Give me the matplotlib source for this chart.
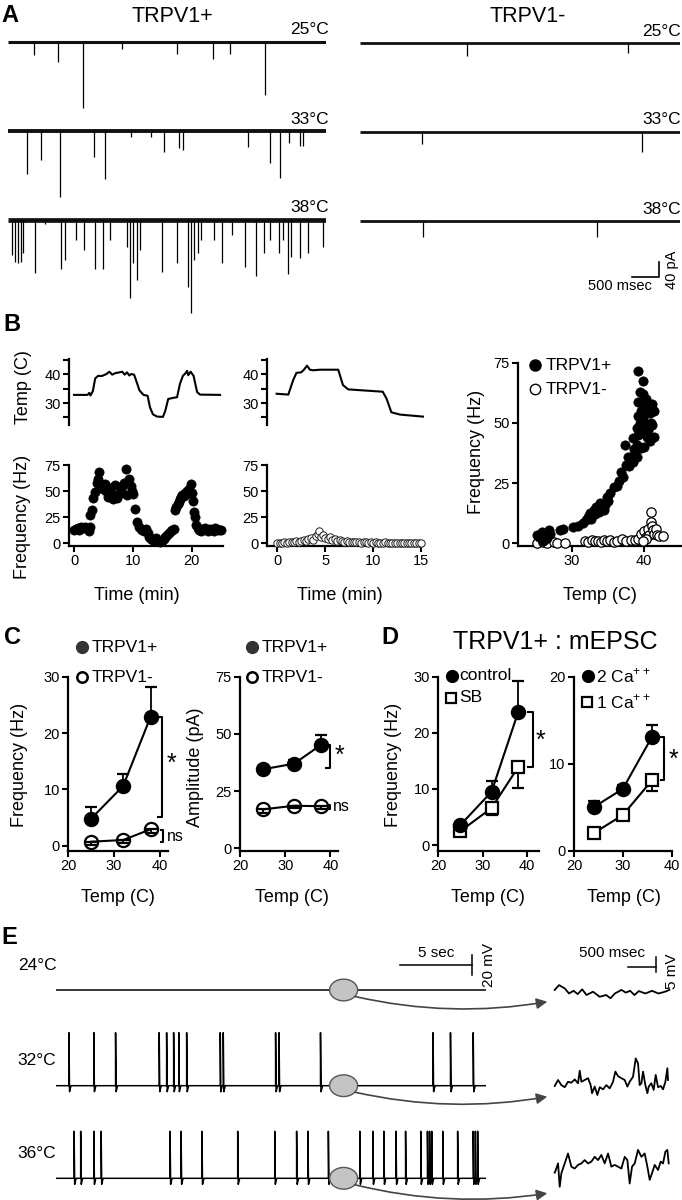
import numpy as np
import matplotlib
matplotlib.use("Agg")
import matplotlib.pyplot as plt
from matplotlib.lines import Line2D
from matplotlib.patches import Ellipse

plt.rcParams["font.family"] = ["Liberation Sans", "DejaVu Sans"]
plt.rcParams["mathtext.fontset"] = "custom"
plt.rcParams["mathtext.rm"] = "Liberation Sans"

# ---------------------
# DATA
# ---------------------
# A: mEPSC event times (ms) and amplitudes (pA, inward)
A_POS_25_T = [485, 921, 1389, 2115, 3124, 3793, 4116, 4753]
A_POS_25_AMP = [35, 53, 176, 19, 32, 45, 32, 142]
A_POS_33_T = [356, 614, 961, 1591, 1800, 2276, 2656, 2890, 3164, 3245, 4439, 4842, 5036, 5205, 5399, 5463]
A_POS_33_AMP = [115, 77, 176, 69, 128, 16, 16, 56, 45, 51, 43, 85, 125, 32, 40, 40]
A_POS_38_T = [82, 138, 195, 243, 276, 501, 695, 986, 1066, 1268, 1405, 1607, 1752, 1897, 2196, 2260,
              2317, 2389, 2438, 2857, 3124, 3326, 3382, 3438, 3527, 3583, 3809, 3971, 4148, 4390,
              4592, 4737, 4858, 5020, 5084, 5181, 5246, 5407, 5560, 5826]
A_POS_38_AMP = [93, 111, 116, 111, 89, 142, 11, 132, 107, 53, 80, 132, 132, 53, 71, 209,
                116, 160, 80, 138, 116, 178, 249, 107, 89, 53, 53, 116, 40, 125,
                149, 89, 53, 89, 53, 144, 98, 102, 89, 71]
A_NEG_25_T = [1973, 4958]
A_NEG_25_AMP = [35, 27]
A_NEG_33_T = [1142, 5216]
A_NEG_33_AMP = [32, 53]
A_NEG_38_T = [1166, 4377]
A_NEG_38_AMP = [43, 43]
A_TEMPS = ["25°C", "33°C", "38°C"]

# B: temperature trace (time min, deg C) and event frequency (time min, Hz)
B_POS_TEMP = [(0.0, 32.8), (2.3, 32.8), (2.6, 33.5), (2.8, 32.6), (3.2, 34.1), (3.6, 38.5), (4.1, 39.4),
              (4.7, 39.3), (5.5, 40.0), (6.0, 40.8), (6.5, 39.8), (7.0, 40.3), (7.5, 40.5), (8.2, 40.8),
              (8.6, 39.8), (9.0, 40.6), (9.4, 39.5), (9.7, 40.0), (10.2, 39.8), (10.7, 36.9), (11.1, 34.4),
              (11.8, 32.8), (12.5, 32.5), (12.9, 28.5), (13.4, 26.1), (14.1, 25.3), (15.1, 25.2),
              (15.5, 27.3), (16.0, 31.4), (16.9, 31.8), (17.5, 32.0), (18.0, 36.7), (18.5, 39.4),
              (18.9, 40.2), (19.2, 41.1), (19.4, 39.6), (19.8, 40.8), (20.3, 39.4), (20.9, 33.8),
              (21.4, 32.9), (24.8, 32.8)]
B_POS_FREQ = [(0.0, 13), (0.3, 14), (0.6, 15), (0.9, 13), (1.2, 16), (1.5, 15), (1.8, 16), (2.1, 15),
              (2.4, 14), (2.6, 12), (2.7, 16), (2.8, 27), (3.0, 32), (3.3, 43), (3.6, 49), (3.9, 58),
              (4.1, 62), (4.3, 68), (4.6, 56), (4.9, 52), (5.2, 57), (5.5, 50), (5.8, 44), (6.1, 53),
              (6.4, 47), (6.7, 42), (7.0, 56), (7.3, 43), (7.6, 47), (7.9, 52), (8.2, 55), (8.5, 58),
              (8.8, 71), (9.0, 46), (9.3, 62), (9.6, 55), (9.9, 50), (10.1, 47), (10.3, 33), (10.7, 20),
              (11.0, 16), (11.3, 14), (11.6, 13), (11.9, 12), (12.2, 14), (12.5, 10), (12.8, 6),
              (13.1, 4), (13.4, 3), (13.7, 2), (14.0, 5), (14.3, 2), (14.6, 1), (14.9, 2), (15.2, 4),
              (15.5, 6), (15.8, 8), (16.1, 10), (16.4, 12), (16.7, 13), (17.0, 14), (17.2, 32),
              (17.4, 35), (17.6, 38), (17.8, 40), (18.0, 42), (18.2, 44), (18.4, 46), (18.6, 45),
              (18.8, 48), (19.0, 47), (19.2, 50), (19.5, 52), (19.8, 57), (20.0, 48), (20.2, 41),
              (20.4, 30), (20.6, 25), (20.8, 18), (21.0, 15), (21.3, 13), (21.6, 12), (21.9, 14),
              (22.2, 15), (22.5, 13), (22.8, 12), (23.1, 14), (23.4, 13), (23.7, 12), (24.0, 15),
              (24.3, 14), (24.6, 13), (24.9, 13)]
B_NEG_TEMP = [(-0.07, 33.2), (1.15, 32.9), (1.67, 38.0), (2.0, 40.4), (2.5, 40.6), (2.78, 41.5),
              (3.1, 42.9), (3.4, 41.5), (3.75, 41.3), (4.45, 41.5), (6.36, 41.5), (6.85, 36.2),
              (7.4, 34.7), (11.0, 33.9), (11.4, 31.5), (11.9, 26.8), (12.8, 26.0), (15.2, 25.3)]
B_NEG_FREQ = [(0.0, 0.5), (0.25, 0.8), (0.5, 0.6), (0.75, 1.0), (1.0, 0.8), (1.25, 1.2), (1.5, 1.0),
              (1.75, 1.5), (2.0, 2.0), (2.25, 1.5), (2.5, 2.5), (2.75, 3.0), (3.0, 2.0), (3.25, 4.0),
              (3.5, 5.0), (3.75, 3.5), (4.0, 7.0), (4.2, 9.0), (4.4, 12.0), (4.6, 6.0), (4.8, 8.0),
              (5.0, 5.0), (5.25, 4.0), (5.5, 6.5), (5.75, 3.0), (6.0, 4.0), (6.25, 2.5), (6.5, 3.0),
              (6.75, 2.0), (7.0, 1.5), (7.25, 2.0), (7.5, 1.5), (7.75, 1.0), (8.0, 1.5), (8.25, 1.0),
              (8.5, 1.2), (8.75, 0.8), (9.0, 1.0), (9.25, 1.2), (9.5, 0.8), (9.75, 1.0), (10.0, 0.6),
              (10.25, 0.9), (10.5, 0.5), (10.75, 0.8), (11.0, 0.6), (11.25, 1.0), (11.5, 0.5),
              (11.75, 0.7), (12.0, 0.4), (12.25, 0.6), (12.5, 0.5), (12.75, 0.7), (13.0, 0.4),
              (13.25, 0.6), (13.5, 0.5), (13.75, 0.4), (14.0, 0.6), (14.25, 0.5), (14.5, 0.4),
              (14.75, 0.5), (15.0, 0.6)]
# B right: frequency vs temperature
B_POS_TF = [(25.2, 3.4), (25.5, 2.5), (25.9, 4.8), (26.2, 1.5), (26.4, 3.0), (26.6, 2.4), (26.8, 5.5),
            (27.0, 3.8), (26.0, 1.0), (28.4, 5.5), (28.8, 6.0), (30.2, 6.6), (30.8, 7.0), (31.6, 8.3),
            (32.0, 9.5), (32.3, 11.0), (32.5, 12.5), (32.7, 10.0), (33.0, 13.8), (33.2, 12.0),
            (33.4, 15.0), (33.5, 15.2), (33.7, 13.0), (33.9, 16.6), (34.1, 14.5), (34.4, 13.8),
            (34.6, 16.0), (34.9, 19.4), (35.0, 17.5), (35.3, 21.0), (35.8, 23.5), (36.2, 24.0),
            (36.5, 26.0), (37.1, 27.6), (36.8, 29.5), (37.5, 32.5), (37.9, 32.0), (38.3, 34.0),
            (37.3, 40.8), (37.8, 36.0), (38.5, 43.6), (38.5, 33.8), (38.8, 38.0), (39.0, 41.0),
            (39.2, 45.0), (39.0, 48.0), (39.4, 50.0), (39.2, 53.0), (39.6, 55.0), (39.2, 58.8),
            (39.4, 63.0), (39.2, 71.6), (39.9, 67.5), (39.6, 46.0), (39.8, 52.0), (40.0, 56.0),
            (40.2, 49.0), (40.4, 44.0), (40.6, 58.0), (40.8, 54.0), (41.0, 50.0), (41.1, 58.0),
            (41.3, 55.0), (41.1, 49.0), (41.3, 44.0), (40.8, 42.5), (40.5, 47.0), (40.0, 40.0),
            (39.6, 39.5), (39.0, 36.0), (38.6, 39.0), (40.9, 57.0), (40.3, 60.0), (39.9, 62.0)]
B_NEG_TF = [(25.2, 0.0), (26.0, 0.5), (26.5, 0.2), (27.5, 0.5), (28.0, 0.2), (29.0, 0.0), (31.8, 1.0),
            (32.3, 0.5), (32.8, 1.5), (33.2, 0.8), (33.6, 1.0), (34.0, 0.5), (34.4, 1.2), (34.8, 0.8),
            (35.3, 1.5), (35.8, 0.6), (36.3, 1.0), (36.9, 1.8), (37.5, 0.8), (38.2, 1.5), (38.7, 1.2),
            (39.2, 1.8), (39.6, 4.0), (40.0, 5.0), (40.2, 2.5), (40.5, 6.0), (40.7, 3.5), (40.9, 9.0),
            (41.0, 13.0), (41.1, 7.0), (41.2, 5.5), (41.4, 4.0), (41.6, 6.0), (41.8, 3.5), (42.1, 3.0),
            (42.6, 3.0), (40.3, 2.0), (39.8, 1.0)]

# C: mean +/- SEM
C_TEMP = [25, 32, 38]
C_FREQ_POS = [4.8, 10.6, 22.9]
C_FREQ_POS_ERR = [2.0, 2.2, 5.2]
C_FREQ_NEG = [0.7, 1.0, 2.9]
C_FREQ_NEG_ERR = [0.6, 0.6, 0.6]
C_AMP_POS = [34.5, 37.0, 45.3]
C_AMP_POS_ERR = [1.5, 1.5, 4.4]
C_AMP_NEG = [17.0, 18.6, 18.4]
C_AMP_NEG_ERR = [1.6, 1.2, 1.2]

# D: mEPSC frequency
D_TEMP_SB = [25, 32, 38]
D_CONTROL = [3.6, 9.5, 23.7]
D_CONTROL_ERR = [0.5, 1.9, 5.6]
D_SB = [2.5, 6.6, 13.9]
D_SB_ERR = [0.4, 1.3, 3.8]
D_TEMP_CA = [24, 30, 36]
D_CA2 = [5.0, 7.1, 13.1]
D_CA2_ERR = [0.7, 0.4, 1.4]
D_CA1 = [2.0, 4.1, 8.1]
D_CA1_ERR = [0.3, 0.4, 1.2]

# E: action potential times (s) in 30 s current-clamp traces
E_TEMPS = ["24°C", "32°C", "36°C"]
E_SPIKES = [
    [],
    [0.92, 2.66, 4.18, 7.23, 7.75, 8.24, 8.60, 9.15, 11.50, 11.71, 15.37, 15.61, 18.51, 26.38, 27.60, 29.19],
    [1.28, 1.74, 2.66, 3.17, 7.99, 8.76, 10.22, 12.72, 15.31, 16.84, 17.63, 19.06, 21.26, 22.17,
     22.94, 23.79, 24.46, 25.52, 25.99, 26.14, 26.29, 27.06, 28.10, 29.19, 29.34, 29.50],
]
E_SPIKE_AMP = [0, 53, 47]
# E insets: expanded 2 s of membrane potential (ms, mV)
E_IN24_T = [0, 79, 182, 261, 341, 420, 499, 578, 697, 816, 935, 1014, 1094, 1213, 1292, 1371, 1450,
            1530, 1649, 1768, 1887, 2006, 2085]
E_IN24_V = [0.6, 2.2, 1.1, -0.6, 0.3, -0.8, 0.8, -1.1, 0, -1.7, -1.1, -2.2, -0.6, 0.6, -0.3, 0.3,
            -1.1, 0.2, -0.6, 0.3, -0.6, 0, 0.6]
E_IN32_T = [0, 61, 121, 182, 242, 303, 364, 424, 455, 485, 545, 606, 654, 679, 727, 776, 818, 879,
            939, 1000, 1060, 1103, 1151, 1212, 1273, 1321, 1363, 1424, 1473, 1515, 1545, 1576, 1606,
            1648, 1685, 1709, 1757, 1800, 1836, 1879, 1927, 1970, 2012, 2048, 2060]
E_IN32_V = [0, 2.0, 0.3, -0.4, 1.4, 1.1, 2.2, 0.9, 5.1, 1.4, 2.0, 2.6, 0.3, -2.4, -0.2, -3.0, -0.4,
            -1.1, 0.3, -0.8, 1.4, 4.8, 3.3, 2.6, 2.0, -0.2, 1.4, 3.1, 9.2, 7.5, 0.3, 0.9, 4.8, 0.3,
            -2.4, -0.2, 0.9, -1.3, 3.7, -0.4, 0, -1.1, 1.4, 5.9, 2.0]
E_IN36_T = [0, 30, 61, 91, 121, 182, 242, 303, 364, 424, 485, 545, 606, 667, 727, 788, 848, 909, 970,
            1030, 1091, 1151, 1212, 1273, 1321, 1363, 1406, 1454, 1515, 1576, 1636, 1685, 1727, 1769,
            1818, 1879, 1927, 1970, 2012, 2048, 2073]
E_IN36_V = [-2.0, -0.6, 1.1, -6.7, -2.2, 1.1, 4.4, 0, -0.6, 0.6, 1.1, 2.2, 1.1, 1.7, 3.3, 2.2, 3.9,
            1.1, 4.4, 0, 0.6, 0, -0.6, 3.3, 2.2, -5.6, 0, 1.1, 5.6, 3.3, 4.4, 0, -4.4, -2.2, 0.6,
            -1.1, 1.7, 1.1, 5.0, 5.6, 1.1]

# ---------------------
# LAYOUT HELPERS (pixel coordinates, origin top-left)
# ---------------------
W, H = 682, 1200
fig = plt.figure(figsize=(W / 100, H / 100), dpi=100)


def add_ax(x0, y0, x1, y1):
    return fig.add_axes([x0 / W, 1 - y1 / H, (x1 - x0) / W, (y1 - y0) / H])


def ftext(x, y, s, **kw):
    kw.setdefault("ha", "center")
    kw.setdefault("va", "center")
    fig.text(x / W, 1 - y / H, s, **kw)


def fmarker(x, y, **kw):
    fig.add_artist(Line2D([x / W], [1 - y / H], transform=fig.transFigure, linestyle="none", **kw))


def style(ax, bottom=True):
    for s in ("top", "right"):
        ax.spines[s].set_visible(False)
    for s in ("left", "bottom"):
        ax.spines[s].set_linewidth(1.6)
    ax.tick_params(which="both", direction="out", length=4, width=1.5, labelsize=10.5, pad=2)
    ax.patch.set_alpha(0)
    if not bottom:
        ax.spines["bottom"].set_visible(False)
        ax.tick_params(axis="x", which="both", bottom=False, labelbottom=False)


def bracket(ax, x, y0, y1, arm):
    ax.plot([x - arm, x, x, x - arm], [y1, y1, y0, y0], color="k", lw=1.5, clip_on=False)


def unzip(pairs):
    a, b = zip(*pairs)
    return np.array(a), np.array(b)


LETTER = dict(fontsize=17, fontweight="bold")

# ---------------------
# PANEL A
# ---------------------
MS_PER_PX = 18.5
PA_PER_PX = 2.67


def trace_ax(x0, x1, base, up=20, down=100):
    ax = add_ax(x0, base - up, x1, base + down)
    ax.set_xlim(0, (x1 - x0) * MS_PER_PX)
    ax.set_ylim(-down * PA_PER_PX, up * PA_PER_PX)
    ax.axis("off")
    return ax


ftext(10, 15, "A", **LETTER)
ftext(172, 16, "TRPV1+", fontsize=15.5)
ftext(528, 16, "TRPV1-", fontsize=15.5)

left_sets = [(A_POS_25_T, A_POS_25_AMP, 41.7, 2.2), (A_POS_33_T, A_POS_33_AMP, 131, 2.8),
             (A_POS_38_T, A_POS_38_AMP, 220, 3.4)]
right_sets = [(A_NEG_25_T, A_NEG_25_AMP, 43.3, 2.0), (A_NEG_33_T, A_NEG_33_AMP, 131.7, 2.0),
              (A_NEG_38_T, A_NEG_38_AMP, 221, 2.0)]
a_axes = []
for (x0, x1, sets, lab_x) in [(7.8, 326, left_sets, 329), (360, 679.5, right_sets, 681)]:
    for (times, amps, base, lw), lab in zip(sets, A_TEMPS):
        ax = trace_ax(x0, x1, base)
        ax.plot(ax.get_xlim(), [0, 0], color="#111111", lw=lw, solid_capstyle="butt")
        ax.vlines(times, -np.array(amps), 0, color="k", lw=0.9)
        ftext(lab_x, base - 12, lab, ha="right", fontsize=12.5)
        a_axes.append(ax)

# scale bar 500 ms / 40 pA
sb = a_axes[-1]
sb.plot([5023, 5523, 5523], [-148.7, -148.7, -108.7], color="k", lw=1.2, clip_on=False)
ftext(652, 286, "500 msec", ha="right", fontsize=10.5)
ftext(672, 270, "40 pA", rotation=90, fontsize=10.5)

# ---------------------
# PANEL B
# ---------------------
ftext(12, 325, "B", **LETTER)

bt, bT = unzip(B_POS_TEMP)
bf_t, bf_f = unzip(B_POS_FREQ)
nt, nT = unzip(B_NEG_TEMP)
nf_t, nf_f = unzip(B_NEG_FREQ)

for (x0, x1, xlim, temp, freq, pos, xticks, xlab_x) in [
        (69, 223, (-0.85, 25.3), (bt, bT), (bf_t, bf_f), True, [0, 10, 20], 137),
        (267.3, 423, (-1.04, 15.2), (nt, nT), (nf_t, nf_f), False, [0, 5, 10, 15], 340)]:
    axT = add_ax(x0, 359, x1, 425)
    style(axT, bottom=False)
    axT.set_xlim(*xlim)
    axT.set_ylim(22.4, 45.2)
    axT.set_yticks([30, 40])
    axT.set_yticks([25, 35, 45], minor=True)
    axT.plot(temp[0], temp[1], color="k", lw=1.5, clip_on=False)

    axF = add_ax(x0, 465, x1, 546)
    style(axF)
    axF.set_xlim(*xlim)
    axF.set_ylim(-2.5, 75)
    axF.set_yticks([0, 25, 50, 75])
    axF.set_xticks(xticks)
    if pos:
        axF.scatter(freq[0], freq[1], s=44, c="k", edgecolors="k", linewidths=0.5, clip_on=False, zorder=3)
    else:
        axF.scatter(freq[0], freq[1], s=28, c="white", edgecolors="#222222", linewidths=0.7,
                    clip_on=False, zorder=3)
    ftext(xlab_x, 595, "Time (min)", fontsize=13)

ftext(23, 387, "Temp (C)", rotation=90, fontsize=13)
ftext(23, 517, "Frequency (Hz)", rotation=90, fontsize=13)

axR = add_ax(518.3, 362.7, 681, 546)
style(axR)
axR.set_xlim(22.6, 45.1)
axR.set_ylim(-1.1, 75)
axR.set_xticks([30, 40])
axR.set_yticks([0, 25, 50, 75])
pT, pF = unzip(B_POS_TF)
qT, qF = unzip(B_NEG_TF)
axR.scatter(qT, qF, s=45, c="white", edgecolors="k", linewidths=0.9, clip_on=False, zorder=3)
axR.scatter(pT, pF, s=45, c="k", edgecolors="k", linewidths=0.5, clip_on=False, zorder=4)
ftext(600, 595, "Temp (C)", fontsize=13)
ftext(476, 452, "Frequency (Hz)", rotation=90, fontsize=13)
fmarker(535, 365, marker="o", ms=8, mfc="k", mec="k")
ftext(546, 365, "TRPV1+", ha="left", fontsize=12.5)
fmarker(535, 389, marker="o", ms=7.5, mfc="white", mec="k", mew=1.0)
ftext(546, 389, "TRPV1-", ha="left", fontsize=12.5)

# ---------------------
# PANELS C and D
# ---------------------
ftext(12, 638, "C", **LETTER)
ftext(390, 637, "D", **LETTER)
ftext(555, 642, "TRPV1+ : mEPSC", fontsize=18)


def series(ax, x, y, err, marker, filled, upper, mfc=None):
    yerr = [[0] * len(err), err] if upper else [err, [0] * len(err)]
    face = "k" if filled else (mfc if mfc is not None else "white")
    cont = ax.errorbar(x, y, yerr=yerr, fmt=marker + "-", color="k", ms=9.5 if marker == "o" else 8.5,
                       mfc=face, mec="k", mew=1.6, lw=1.5, elinewidth=1.3, capsize=4, capthick=1.3)
    for art in cont.get_children():
        art.set_clip_on(False)


def stat_ax(x0, x1, xlim, ylim, yticks):
    ax = add_ax(x0, 676.7, x1, 850.7)
    style(ax)
    ax.set_xlim(*xlim)
    ax.set_ylim(*ylim)
    ax.set_xticks([20, 30, 40])
    ax.set_yticks(yticks)
    return ax


# C left: frequency
ax = stat_ax(68.3, 168, (20, 41.8), (-0.9, 30), [0, 10, 20, 30])
series(ax, C_TEMP, C_FREQ_NEG, C_FREQ_NEG_ERR, "o", False, False, mfc="none")
series(ax, C_TEMP, C_FREQ_POS, C_FREQ_POS_ERR, "o", True, True)
bracket(ax, 40.4, 5.1, 22.9, 0.8)
ax.text(41.5, 14.5, "*", fontsize=18, ha="left", va="center")
bracket(ax, 40.8, 0.7, 2.8, 0.5)
ax.text(41.6, 1.6, "ns", fontsize=11.5, ha="left", va="center")
ftext(118, 898, "Temp (C)", fontsize=13)
ftext(20, 765, "Frequency (Hz)", rotation=90, fontsize=13)
fmarker(82, 647, marker="o", ms=8.5, mfc="#333333", mec="#333333")
ftext(92, 647, "TRPV1+", ha="left", fontsize=12.5)
fmarker(82, 677, marker="o", ms=7.5, mfc="white", mec="k", mew=1.8)
ftext(92, 677, "TRPV1-", ha="left", fontsize=12.5)

# C right: amplitude
ax = stat_ax(240, 338, (20, 41.7), (-1.05, 75), [0, 25, 50, 75])
series(ax, C_TEMP, C_AMP_NEG, C_AMP_NEG_ERR, "o", False, False, mfc="none")
series(ax, C_TEMP, C_AMP_POS, C_AMP_POS_ERR, "o", True, True)
bracket(ax, 39.9, 35.0, 45.1, 0.8)
ax.text(40.9, 40.5, "*", fontsize=18, ha="left", va="center")
bracket(ax, 40.0, 17.3, 19.1, 0.5)
ax.text(40.6, 18.2, "ns", fontsize=11.5, ha="left", va="center")
ftext(292, 898, "Temp (C)", fontsize=13)
ftext(195, 767, "Amplitude (pA)", rotation=90, fontsize=13)
fmarker(252, 647, marker="o", ms=8.5, mfc="#333333", mec="#333333")
ftext(262, 647, "TRPV1+", ha="left", fontsize=12.5)
fmarker(252, 677, marker="o", ms=7.5, mfc="white", mec="k", mew=1.8)
ftext(262, 677, "TRPV1-", ha="left", fontsize=12.5)

# D left: SB
ax = stat_ax(438.3, 538.6, (20, 42.6), (-1.0, 30), [0, 10, 20, 30])
series(ax, D_TEMP_SB, D_SB, D_SB_ERR, "s", False, False)
series(ax, D_TEMP_SB, D_CONTROL, D_CONTROL_ERR, "o", True, True)
bracket(ax, 41.3, 13.9, 23.7, 1.0)
ax.text(42.0, 18.6, "*", fontsize=18, ha="left", va="center")
ftext(488, 898, "Temp (C)", fontsize=13)
ftext(393, 765, "Frequency (Hz)", rotation=90, fontsize=13)
fmarker(452, 676, marker="o", ms=8.5, mfc="k", mec="k")
ftext(459, 676, "control", ha="left", fontsize=12.5)
fmarker(451, 698, marker="s", ms=7.5, mfc="white", mec="k", mew=1.6)
ftext(459, 698, "SB", ha="left", fontsize=12.5)

# D right: calcium
ax = stat_ax(574, 671.6, (20, 40), (0, 20), [0, 10, 20])
series(ax, D_TEMP_CA, D_CA1, D_CA1_ERR, "s", False, False)
series(ax, D_TEMP_CA, D_CA2, D_CA2_ERR, "o", True, True)
bracket(ax, 38.4, 8.1, 13.1, 0.5)
ax.text(39.4, 10.4, "*", fontsize=18, ha="left", va="center")
ftext(624, 898, "Temp (C)", fontsize=13)
fmarker(588, 676, marker="o", ms=8.5, mfc="k", mec="k")
ftext(596, 676, "2 Ca$^{++}$", ha="left", fontsize=12.5)
fmarker(587, 702, marker="s", ms=7.5, mfc="white", mec="k", mew=1.6)
ftext(596, 702, "1 Ca$^{++}$", ha="left", fontsize=12.5)

# ---------------------
# PANEL E
# ---------------------
ftext(9, 937, "E", **LETTER)
S_PER_PX = 1 / 14.3
MS_PER_PX_IN = 18.18
main_bases = [990, 1085.7, 1178.3]
inset_refs = [991.7, 1086, 1166.7]
arrow_drop = [11.7, 11.0, 15.0]
insets = [(E_IN24_T, E_IN24_V), (E_IN32_T, E_IN32_V), (E_IN36_T, E_IN36_V)]
ellipse_t = (343.6 - 55.8) * S_PER_PX

for i, lab in enumerate(E_TEMPS):
    base = main_bases[i]
    ax = add_ax(55.8, base - 60, 486, base + 25)
    t_end = (486 - 55.8) * S_PER_PX
    ax.set_xlim(0, t_end)
    ax.set_ylim(-25, 60)
    ax.axis("off")
    xs, ys = [0.0], [0.0]
    for t in E_SPIKES[i]:
        xs += [t, t, t + 0.04, t + 0.14]
        ys += [0, E_SPIKE_AMP[i], -6, 0]
    xs.append(t_end)
    ys.append(0)
    ax.plot(xs, ys, color="k", lw=1.1)
    ax.add_patch(Ellipse((ellipse_t, 0), width=28 * S_PER_PX, height=21.7, facecolor="#c4c4c4",
                         edgecolor="#555555", lw=1.0, zorder=3))
    ax.annotate("", xy=((547.3 - 55.8) * S_PER_PX, -arrow_drop[i]),
                xytext=((355 - 55.8) * S_PER_PX, -6.5),
                arrowprops=dict(arrowstyle="-|>", connectionstyle="arc3,rad=0.1", color="#444444",
                                lw=1.2, mutation_scale=16, shrinkA=0, shrinkB=0),
                annotation_clip=False)
    ftext(37, base - 25, lab, fontsize=12.5)

    ref = inset_refs[i]
    axi = add_ax(554.7, ref - 45, 669.4, ref + 30)
    axi.set_xlim(0, (669.4 - 554.7) * MS_PER_PX_IN)
    axi.set_ylim(-10, 15)
    axi.axis("off")
    axi.plot(insets[i][0], insets[i][1], color="k", lw=1.3, clip_on=False)
    if i == 0:
        ax.plot([24.1, 29.1], [25, 25], color="k", lw=1.1, clip_on=False)
        ax.plot([29.1, 29.1], [35, 15], color="k", lw=1.1, clip_on=False)
        axi.plot([1333, 1833], [8.3, 8.3], color="k", lw=1.1, clip_on=False)
        axi.plot([1833, 1833], [11.7, 6.7], color="k", lw=1.1, clip_on=False)

ftext(436, 953, "5 sec", fontsize=11)
ftext(489, 965, "20 mV", rotation=90, fontsize=11)
ftext(612, 953, "500 msec", fontsize=11)
ftext(672, 971, "5 mV", rotation=90, fontsize=11)

fig.savefig("out.png", dpi=100)
